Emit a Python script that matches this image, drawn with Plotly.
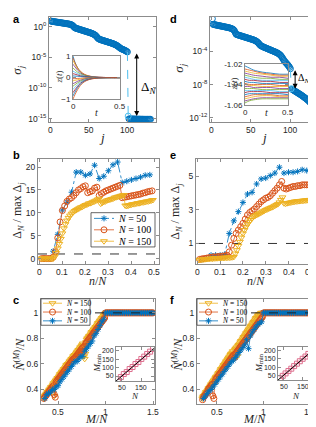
import plotly.graph_objects as go

W, H = 316, 427
def px(x): return x / W
def py(y): return 1 - y / H

BLUE = '#0072BD'; ORANGE = '#D95319'; YELLOW = '#EDB120'; LBLUE = '#4DBEEE'; PINK = '#DE6F8E'
MCOL = ['#0072BD', '#D95319', '#EDB120', '#7E2F8E', '#77AC30', '#4DBEEE', '#A2142F']
AX = '#8c8c8c'
SANS = 'Liberation Sans, Arial, sans-serif'
SERIF = 'Liberation Serif, DejaVu Serif, serif'

# ---------------- data ----------------
N_gap = 100
j_idx = list(range(1, 131))
log10_sigma_a = [
    0.92, 0.88, 0.86, 0.84, 0.82, 0.80, 0.78, 0.76, 0.74, 0.72,
    0.70, 0.68, 0.66, 0.64, 0.62, 0.60, 0.58, 0.56, 0.54, 0.52,
    0.50, 0.48, 0.46, 0.44, 0.41, 0.38, 0.34, 0.28, 0.20, 0.08,
    -0.08, -0.18, -0.24, -0.28, -0.32, -0.36, -0.40, -0.44, -0.48, -0.52,
    -0.56, -0.60, -0.64, -0.68, -0.72, -0.76, -0.80, -0.84, -0.88, -0.92,
    -0.96, -1.00, -1.05, -1.10, -1.15, -1.21, -1.28, -1.36, -1.46, -1.60,
    -1.76, -1.90, -2.00, -2.06, -2.11, -2.15, -2.19, -2.23, -2.27, -2.31,
    -2.35, -2.39, -2.43, -2.47, -2.51, -2.55, -2.59, -2.63, -2.67, -2.71,
    -2.76, -2.81, -2.86, -2.92, -2.98, -3.05, -3.13, -3.22, -3.32, -3.42,
    -3.52, -3.60, -3.66, -3.71, -3.76, -3.82, -3.88, -3.95, -4.03, -4.12,
    -14.60, -15.05, -15.06, -15.06, -15.07, -15.07, -15.08, -15.08, -15.08, -15.09,
    -15.09, -15.09, -15.10, -15.10, -15.10, -15.10, -15.11, -15.11, -15.11, -15.11,
    -15.12, -15.12, -15.12, -15.12, -15.12, -15.12, -15.12, -15.12, -15.12, -15.12]
log10_sigma_d = [
    -0.10, -0.78, -0.80, -0.82, -0.84, -0.86, -0.88, -0.90, -0.92, -0.94,
    -0.96, -0.98, -1.00, -1.02, -1.04, -1.06, -1.08, -1.10, -1.12, -1.14,
    -1.16, -1.18, -1.21, -1.24, -1.27, -1.31, -1.36, -1.43, -1.55, -1.75,
    -1.95, -2.00, -2.03, -2.06, -2.09, -2.12, -2.15, -2.18, -2.21, -2.24,
    -2.27, -2.30, -2.33, -2.36, -2.39, -2.42, -2.45, -2.48, -2.51, -2.54,
    -2.57, -2.60, -2.63, -2.67, -2.71, -2.76, -2.82, -2.89, -2.98, -3.08,
    -3.20, -3.30, -3.36, -3.41, -3.46, -3.50, -3.54, -3.58, -3.62, -3.66,
    -3.70, -3.74, -3.78, -3.82, -3.86, -3.90, -3.94, -3.98, -4.02, -4.06,
    -4.10, -4.14, -4.19, -4.24, -4.30, -4.37, -4.45, -4.55, -4.67, -4.82,
    -4.98, -5.12, -5.24, -5.35, -5.46, -5.57, -5.68, -5.80, -5.94, -6.10,
    -8.50, -8.56, -8.62, -8.68, -8.74, -8.80, -8.86, -8.92, -8.98, -9.04,
    -9.10, -9.16, -9.22, -9.28, -9.35, -9.42, -9.49, -9.56, -9.63, -9.70,
    -9.78, -9.86, -9.95, -10.04, -10.14, -10.25, -10.37, -10.50, -10.64, -10.80]

t_a = [0, 0.02, 0.05, 0.08, 0.12, 0.16, 0.2, 0.25, 0.3, 0.4, 0.5]
z_a = [
    [1.00, 0.72, 0.44, 0.27, 0.14, 0.07, 0.04, 0.02, 0.01, 0.00, 0.00],
    [0.92, 0.70, 0.45, 0.29, 0.16, 0.09, 0.05, 0.02, 0.01, 0.00, 0.00],
    [0.80, 0.62, 0.40, 0.26, 0.14, 0.08, 0.04, 0.02, 0.01, 0.00, 0.00],
    [0.62, 0.50, 0.34, 0.22, 0.12, 0.07, 0.04, 0.02, 0.01, 0.00, 0.00],
    [0.45, 0.36, 0.25, 0.17, 0.10, 0.06, 0.03, 0.01, 0.00, 0.00, 0.00],
    [0.30, 0.25, 0.18, 0.12, 0.07, 0.04, 0.02, 0.01, 0.00, 0.00, 0.00],
    [0.18, 0.16, 0.12, 0.08, 0.05, 0.03, 0.02, 0.01, 0.00, 0.00, 0.00],
    [0.08, 0.07, 0.06, 0.05, 0.03, 0.02, 0.01, 0.00, 0.00, 0.00, 0.00],
    [-0.05, -0.05, -0.04, -0.03, -0.02, -0.01, -0.01, 0.00, 0.00, 0.00, 0.00],
    [-0.15, -0.13, -0.10, -0.07, -0.04, -0.03, -0.02, -0.01, 0.00, 0.00, 0.00],
    [-0.28, -0.24, -0.17, -0.12, -0.07, -0.04, -0.02, -0.01, 0.00, 0.00, 0.00],
    [-0.40, -0.33, -0.24, -0.16, -0.10, -0.06, -0.03, -0.01, -0.01, 0.00, 0.00],
    [-0.55, -0.45, -0.32, -0.21, -0.12, -0.07, -0.04, -0.02, -0.01, 0.00, 0.00],
    [-0.70, -0.57, -0.40, -0.26, -0.15, -0.09, -0.05, -0.02, -0.01, 0.00, 0.00],
    [-0.85, -0.68, -0.46, -0.30, -0.17, -0.10, -0.05, -0.02, -0.01, 0.00, 0.00],
    [-1.00, -0.80, -0.55, -0.36, -0.20, -0.11, -0.06, -0.03, -0.01, 0.00, 0.00]]

t_d = [0, 0.05, 0.1, 0.2, 0.3, 0.4, 0.5]
z_d = [
    [-1.022, -1.024, -1.026, -1.028, -1.029, -1.030, -1.030],
    [-1.025, -1.026, -1.027, -1.029, -1.030, -1.031, -1.031],
    [-1.027, -1.028, -1.029, -1.030, -1.031, -1.032, -1.032],
    [-1.029, -1.030, -1.031, -1.032, -1.033, -1.033, -1.034],
    [-1.031, -1.032, -1.033, -1.034, -1.034, -1.035, -1.035],
    [-1.033, -1.034, -1.035, -1.036, -1.036, -1.036, -1.036],
    [-1.035, -1.036, -1.036, -1.037, -1.037, -1.038, -1.038],
    [-1.037, -1.038, -1.038, -1.039, -1.039, -1.039, -1.039],
    [-1.039, -1.040, -1.040, -1.040, -1.040, -1.041, -1.041],
    [-1.040, -1.041, -1.041, -1.042, -1.042, -1.042, -1.042],
    [-1.042, -1.042, -1.043, -1.043, -1.043, -1.044, -1.044],
    [-1.044, -1.044, -1.044, -1.045, -1.045, -1.045, -1.045],
    [-1.046, -1.046, -1.046, -1.046, -1.046, -1.047, -1.047],
    [-1.048, -1.047, -1.047, -1.047, -1.048, -1.048, -1.048],
    [-1.050, -1.049, -1.049, -1.049, -1.049, -1.049, -1.050],
    [-1.052, -1.051, -1.050, -1.050, -1.050, -1.051, -1.051],
    [-1.054, -1.053, -1.052, -1.051, -1.051, -1.052, -1.052],
    [-1.056, -1.055, -1.054, -1.053, -1.053, -1.053, -1.053],
    [-1.058, -1.056, -1.055, -1.054, -1.054, -1.054, -1.054]]

# panel b / e : ratio Delta_N / max Delta_j vs n/N
n50 = list(range(1, 25)); n100 = list(range(1, 50)); n150 = list(range(1, 75))
ratio_b50 = [0, 0, 1.6, 5.3, 10.6, 12.3, 14.5, 18.9, 18.9, 18.2, 18.5, 20.4, 17.5, 18.0, 19.2,
             20.5, 21.1, 16.6, 16.9, 17.2, 17.5, 17.8, 18.2, 18.3]
ratio_b100 = [0.0, 0.0, 0.0, 0.0, 0.0, 0.3, 1.5, 4.5, 8.0, 10.5,
              11.5, 12.5, 13.0, 13.3, 13.8, 14.4, 15.0, 15.3, 15.7, 15.9,
              14.4, 14.6, 14.8, 15.4, 15.6, 13.8, 14.2, 14.5, 14.8, 15.0,
              15.2, 15.4, 15.6, 15.8, 16.0, 13.3, 13.4, 13.5, 13.6, 13.7,
              13.8, 13.9, 14.0, 14.1, 14.3, 14.4, 14.6, 14.7, 14.8]
ratio_b150 = [0.0, 0.0, 0.0, 0.0, 0.0, 0.0, 0.0, 0.0, 0.0, 0.4,
              1.2, 2.2, 3.2, 4.3, 5.5, 6.6, 7.5, 8.3, 8.9, 9.4,
              9.8, 10.1, 10.4, 10.6, 10.8, 11.0, 11.2, 11.3, 11.5, 11.7,
              11.8, 12.0, 12.1, 12.2, 12.4, 12.5, 12.7, 12.9, 13.1, 12.0,
              12.2, 12.4, 12.5, 12.7, 12.8, 12.9, 13.0, 13.1, 13.3, 13.4,
              13.5, 13.6, 13.7, 13.8, 13.9, 11.6, 11.5, 11.6, 11.7, 11.8,
              11.9, 11.9, 12.0, 12.1, 12.1, 12.2, 12.3, 12.3, 12.4, 12.5,
              12.5, 12.6, 12.7, 12.8]
ratio_e50 = [0.05, 0.12, 0.30, 0.30, 0.30, 0.35, 1.60, 2.35, 2.90, 3.45, 3.95, 4.05, 4.55, 4.85,
             4.90, 5.05, 5.20, 5.55, 5.20, 5.25, 5.25, 5.30, 5.40, 5.35]
ratio_e100 = [0.05, 0.08, 0.10, 0.12, 0.15, 0.17, 0.20, 0.20, 0.22, 0.22,
              0.25, 0.25, 0.30, 0.50, 0.90, 1.30, 1.60, 1.80, 2.00, 2.20,
              2.45, 2.70, 2.85, 2.95, 3.05, 3.20, 3.35, 3.50, 3.60, 3.70,
              3.75, 3.85, 4.00, 4.15, 4.30, 4.50, 4.70, 4.30, 4.25, 4.30,
              4.35, 4.40, 4.40, 4.45, 4.45, 4.50, 4.50, 4.50, 4.50]
ratio_e150 = [0.02, 0.03, 0.04, 0.05, 0.06, 0.07, 0.08, 0.09, 0.10, 0.10,
              0.11, 0.12, 0.12, 0.13, 0.13, 0.14, 0.14, 0.15, 0.15, 0.16,
              0.16, 0.17, 0.18, 0.20, 0.40, 0.60, 0.85, 1.10, 1.35, 1.60,
              1.80, 2.00, 2.15, 2.30, 2.40, 2.50, 2.60, 2.65, 2.70, 2.75,
              2.80, 2.85, 2.90, 2.95, 3.00, 3.04, 3.08, 3.12, 3.16, 3.20,
              3.25, 3.30, 3.35, 3.45, 3.60, 3.75, 3.40, 3.38, 3.40, 3.42,
              3.44, 3.46, 3.48, 3.50, 3.51, 3.52, 3.53, 3.54, 3.55, 3.56,
              3.57, 3.58, 3.59, 3.60]
threshold = 1.0

# panel c / f : Nhat/N vs M/N
M50 = list(range(18, 76)); M100 = list(range(35, 151)); M150 = list(range(52, 226))
nhat_c50 = [0.33, 0.36, 0.37, 0.38, 0.40, 0.40, 0.42, 0.43, 0.46, 0.48, 0.50, 0.52, 0.54, 0.56,
            0.58, 0.60, 0.62, 0.62, 0.64, 0.66, 0.66, 0.70, 0.72, 0.74, 0.76, 0.78, 0.82, 0.84,
            0.87, 0.90, 0.93, 0.95] + [1.0] * 26
nhat_c100 = [0.33, 0.34, 0.35, 0.36, 0.37, 0.38, 0.39, 0.40, 0.41, 0.42,
             0.43, 0.36, 0.34, 0.46, 0.47, 0.48, 0.49, 0.50, 0.51, 0.52,
             0.53, 0.54, 0.55, 0.56, 0.57, 0.58, 0.59, 0.60, 0.61, 0.62,
             0.63, 0.64, 0.64, 0.65, 0.66, 0.67, 0.68, 0.69, 0.70, 0.71,
             0.72, 0.73, 0.70, 0.74, 0.76, 0.77, 0.78, 0.79, 0.80, 0.81,
             0.82, 0.83, 0.84, 0.85, 0.86, 0.87, 0.88, 0.89, 0.90, 0.91,
             0.92, 0.93, 0.94, 0.95, 0.96] + [1.0] * 51
nhat_c150 = [0.34, 0.33, 0.35, 0.36, 0.36, 0.37, 0.38, 0.38, 0.39, 0.40,
             0.40, 0.41, 0.42, 0.42, 0.43, 0.44, 0.45, 0.35, 0.46, 0.47,
             0.47, 0.48, 0.49, 0.49, 0.50, 0.51, 0.52, 0.52, 0.53, 0.54,
             0.54, 0.55, 0.56, 0.56, 0.57, 0.58, 0.59, 0.59, 0.60, 0.60,
             0.61, 0.62, 0.62, 0.63, 0.64, 0.64, 0.65, 0.66, 0.66, 0.67,
             0.67, 0.68, 0.69, 0.69, 0.70, 0.71, 0.71, 0.72, 0.73, 0.73,
             0.74, 0.75, 0.76, 0.70, 0.66, 0.64, 0.68, 0.77, 0.79, 0.80,
             0.80, 0.81, 0.82, 0.82, 0.83, 0.84, 0.85, 0.85, 0.86, 0.87,
             0.87, 0.88, 0.89, 0.89, 0.90, 0.91, 0.92, 0.92, 0.93, 0.94,
             0.94, 0.95, 0.96, 0.96, 0.97, 0.98, 0.98, 0.99] + [1.0] * 76
nhat_f50 = [0.33, 0.35, 0.37, 0.39, 0.40, 0.42, 0.44, 0.46, 0.48, 0.50, 0.52, 0.54, 0.56, 0.58,
            0.60, 0.62, 0.63, 0.65, 0.67, 0.69, 0.71, 0.73, 0.75, 0.79, 0.72, 0.82, 0.85, 0.87,
            0.89, 0.91, 0.92, 0.93] + [1.0] * 26
nhat_f100 = [0.32, 0.34, 0.35, 0.36, 0.37, 0.38, 0.40, 0.41, 0.42, 0.43,
             0.44, 0.35, 0.33, 0.46, 0.48, 0.49, 0.50, 0.51, 0.52, 0.53,
             0.54, 0.55, 0.56, 0.57, 0.58, 0.59, 0.60, 0.61, 0.62, 0.63,
             0.64, 0.65, 0.66, 0.67, 0.65, 0.68, 0.69, 0.70, 0.71, 0.72,
             0.73, 0.74, 0.75, 0.76, 0.77, 0.78, 0.79, 0.80, 0.81, 0.82,
             0.83, 0.84, 0.85, 0.86, 0.87, 0.88, 0.89, 0.90, 0.91, 0.92,
             0.93, 0.94, 0.95, 0.96, 0.97] + [1.0] * 51
nhat_f150 = [0.33, 0.34, 0.35, 0.35, 0.36, 0.37, 0.38, 0.38, 0.39, 0.40,
             0.41, 0.41, 0.42, 0.43, 0.44, 0.44, 0.45, 0.46, 0.47, 0.47,
             0.48, 0.49, 0.50, 0.50, 0.51, 0.52, 0.53, 0.53, 0.54, 0.55,
             0.56, 0.56, 0.57, 0.58, 0.59, 0.59, 0.60, 0.61, 0.62, 0.62,
             0.63, 0.64, 0.65, 0.65, 0.66, 0.67, 0.68, 0.68, 0.69, 0.70,
             0.66, 0.64, 0.71, 0.72, 0.72, 0.73, 0.66, 0.74, 0.75, 0.75,
             0.76, 0.77, 0.78, 0.78, 0.79, 0.80, 0.81, 0.81, 0.82, 0.83,
             0.84, 0.84, 0.85, 0.86, 0.87, 0.87, 0.88, 0.89, 0.90, 0.90,
             0.91, 0.92, 0.93, 0.93, 0.94, 0.95, 0.96, 0.96, 0.97, 0.98,
             0.98, 0.99, 0.99, 0.99, 1.00, 1.00, 1.00, 1.00] + [1.0] * 76

N_inset = [30, 45, 60, 75, 90, 105, 120, 135, 150, 165, 180, 195, 210]
Mmin_c = [32, 44, 62, 74, 92, 104, 122, 134, 152, 166, 182, 196, 212]
Mmin_f = [31, 46, 61, 76, 90, 106, 121, 136, 151, 165, 181, 197, 211]
fit_slope = 1.0

# ---------------- layout helpers ----------------
layout = {}
ann = []
def frame(n, x0, x1, y0, y1, xr, yr, xt=None, xtt=None, yt=None, ytt=None, ylog=False, fs=8.5):
    s = '' if n == 1 else str(n)
    common = dict(showline=True, linecolor=AX, linewidth=1, mirror='ticks', ticks='inside',
                  ticklen=3, tickcolor=AX, showgrid=False, zeroline=False,
                  tickfont=dict(family=SANS, size=fs, color='#262626'))
    layout['xaxis' + s] = dict(domain=[px(x0), px(x1)], range=xr, anchor='y' + s,
                               tickmode='array', tickvals=xt, showticklabels=False, **common)
    layout['yaxis' + s] = dict(domain=[py(y1), py(y0)], range=yr, anchor='x' + s,
                               type='log' if ylog else 'linear',
                               tickmode='array', tickvals=yt, ticktext=ytt, **common)
    # x tick labels placed close under the frame
    labels = xtt if xtt is not None else [str(v) for v in xt]
    for v, lab in zip(xt, labels):
        ann.append(dict(text=lab, x=v, xref='x' + s, y=0, yref='y%s domain' % s, yanchor='top',
                        xanchor='center', yshift=-1, showarrow=False,
                        font=dict(family=SANS, size=fs, color='#262626')))

frame(1, 41, 148, 5, 112, [-1.5, 137], [-15.5, 1.6], xt=[0, 50, 100],
      yt=[1, 1e-5, 1e-10, 1e-15], ytt=['10<sup>0</sup>', '10<sup>-5</sup>', '10<sup>-10</sup>', '10<sup>-15</sup>'], ylog=True)
frame(2, 202, 310, 5, 112, [-2, 135], [-12.45, 0.12], xt=[0, 50, 100],
      yt=[1e-4, 1e-8, 1e-12], ytt=['10<sup>-4</sup>', '10<sup>-8</sup>', '10<sup>-12</sup>'], ylog=True)
frame(3, 30, 151, 150, 257, [-0.006, 0.52], [-1.1, 21.8], xt=[0, 0.1, 0.2, 0.3, 0.4, 0.5],
      xtt=['0', '0.1', '0.2', '0.3', '0.4', '0.5'], yt=[0, 5, 10, 15, 20])
frame(4, 188, 309, 150, 257, [-0.006, 0.525], [-0.2, 6.05], xt=[0, 0.1, 0.2, 0.3, 0.4, 0.5],
      xtt=['0', '0.1', '0.2', '0.3', '0.4', '0.5'], yt=[1, 3, 5])
frame(5, 33, 147, 293, 400, [0.32, 1.52], [0.29, 1.11], xt=[0.5, 1, 1.5], xtt=['0.5', '1', '1.5'],
      yt=[0.4, 0.6, 0.8, 1], ytt=['0.4', '0.6', '0.8', '1'])
frame(6, 189, 307, 293, 400, [0.29, 1.55], [0.29, 1.11], xt=[0.5, 1, 1.5], xtt=['0.5', '1', '1.5'],
      yt=[0.4, 0.6, 0.8, 1], ytt=['0.4', '0.6', '0.8', '1'])
frame(7, 65, 112, 45, 89, [0, 0.5], [-1, 1], xt=[0, 0.5], xtt=['0', '0.5'], yt=[-1, 0, 1], fs=8)
frame(8, 237, 280, 53, 95, [0, 0.5], [-1.06, -1.02], xt=[0, 0.5], xtt=['0', '0.5'],
      yt=[-1.06, -1.04, -1.02], ytt=['-1.06', '-1.04', '-1.02'], fs=8)
frame(9, 108, 146, 342, 377, [20, 215], [20, 225], xt=[50, 150], yt=[50, 100, 150, 200], fs=7)
frame(10, 270, 307, 342, 376, [20, 215], [20, 225], xt=[50, 150], yt=[50, 100, 150, 200], fs=7)
# overlay in pixel units for the legend boxes
layout['xaxis11'] = dict(domain=[0, 1], range=[0, W], anchor='y11', visible=False, fixedrange=True)
layout['yaxis11'] = dict(domain=[0, 1], range=[H, 0], anchor='x11', visible=False, fixedrange=True)

fig = go.Figure()
def tr(n, **kw):
    s = '' if n == 1 else str(n)
    fig.add_trace(go.Scatter(xaxis='x' + s, yaxis='y' + s, hoverinfo='skip', showlegend=False, **kw))

# threshold lines behind data in b, e
for n in (3, 4):
    xr = layout['xaxis' + str(n)]['range']
    tr(n, x=xr, y=[threshold, threshold], mode='lines', line=dict(color='#333333', width=1, dash='dash'))

# panels a, d
for n, logs in ((1, log10_sigma_a), (2, log10_sigma_d)):
    sig = [10 ** v for v in logs]
    tr(n, x=j_idx[:N_gap] + j_idx[N_gap + 1:], y=sig[:N_gap] + sig[N_gap + 1:], mode='markers',
       marker=dict(symbol='circle-open', size=6, color=BLUE, line=dict(width=1)))
    tr(n, x=j_idx[N_gap - 1:N_gap + 1], y=sig[N_gap - 1:N_gap + 1], mode='lines',
       line=dict(color=LBLUE, width=1, dash='dash'))
    tr(n, x=[j_idx[N_gap]], y=[sig[N_gap]], mode='markers',
       marker=dict(symbol='circle-open', size=6, color=LBLUE, line=dict(width=1)))

for i, row in enumerate(z_a):
    tr(7, x=t_a, y=row, mode='lines', line=dict(color=MCOL[i % 7], width=0.8, shape='spline'))
for i, row in enumerate(z_d):
    tr(8, x=t_d, y=row, mode='lines', line=dict(color=MCOL[i % 7], width=0.8, shape='spline'))

# panels b, e
series_be = [
    (50, n50, ratio_b50, ratio_e50, BLUE, 'asterisk-open', 5, 'dashdot'),
    (100, n100, ratio_b100, ratio_e100, ORANGE, 'circle-open', 6, 'solid'),
    (150, n150, ratio_b150, ratio_e150, YELLOW, 'triangle-down-open', 6, 'solid')]
for N, nn, rb, re_, col, sym, sz, dash in series_be:
    x = [k / N for k in nn]
    mk = dict(symbol=sym, size=sz, color=col, line=dict(width=1, color=col))
    tr(3, x=x, y=rb, mode='lines+markers', line=dict(color=col, width=0.8, dash=dash), marker=mk)
    tr(4, x=x, y=re_, mode='lines+markers', line=dict(color=col, width=0.8, dash=dash), marker=mk)

# panels c, f
series_cf = [
    (150, M150, nhat_c150, nhat_f150, YELLOW, 'triangle-down-open', 6),
    (100, M100, nhat_c100, nhat_f100, ORANGE, 'circle-open', 6),
    (50, M50, nhat_c50, nhat_f50, BLUE, 'asterisk-open', 5)]
for N, MM, yc, yf, col, sym, sz in series_cf:
    x = [m / N for m in MM]
    mk = dict(symbol=sym, size=sz, color=col, line=dict(width=1, color=col))
    tr(5, x=x, y=yc, mode='lines+markers', line=dict(color=col, width=0.8), marker=mk)
    tr(6, x=x, y=yf, mode='lines+markers', line=dict(color=col, width=0.8), marker=mk)
# saturation line drawn over the data in c, f
for n in (5, 6):
    xr = layout['xaxis' + str(n)]['range']
    tr(n, x=xr, y=[threshold, threshold], mode='lines', line=dict(color='#222222', width=1, dash='dash'))

for n, mm in ((9, Mmin_c), (10, Mmin_f)):
    tr(n, x=N_inset, y=mm, mode='markers',
       marker=dict(symbol='square-open', size=5, color=PINK, line=dict(width=1, color=PINK)))
    xr = layout['xaxis' + str(n)]['range']
    tr(n, x=xr, y=[fit_slope * v for v in xr], mode='lines', line=dict(color='black', width=1))

# annotations
def A(text, x, y, size=12, angle=0, font=SERIF, xa='center', ya='middle', color='#262626'):
    ann.append(dict(text=text, x=px(x), y=py(y), xref='paper', yref='paper', showarrow=False,
                    textangle=angle, xanchor=xa, yanchor=ya,
                    font=dict(family=font, size=size, color=color)))

# custom legends (drawn in pixel overlay axis so rows are compact)
def legend_box(x0, y0, x1, y1, entries, seg0, seg1, tx, fs):
    tr(11, x=[x0, x1, x1, x0, x0], y=[y0, y0, y1, y1, y0], mode='lines', fill='toself',
       fillcolor='white', line=dict(color='#262626', width=0.7))
    h = (y1 - y0) / len(entries)
    for k, (name, col, sym, sz, dash) in enumerate(entries):
        yc = y0 + (k + 0.5) * h
        tr(11, x=[x0 + seg0, x0 + seg1], y=[yc, yc], mode='lines', line=dict(color=col, width=0.8, dash=dash))
        tr(11, x=[x0 + (seg0 + seg1) / 2], y=[yc], mode='markers',
           marker=dict(symbol=sym, size=sz, color=col, line=dict(width=1, color=col)))
        A(name, x0 + tx, yc, size=fs, xa='left', color='black')

ent_b = [('<i>N</i> = %d' % N, col, sym, sz, dash) for N, _, _, _, col, sym, sz, dash in series_be]
ent_cf = [('<i>N</i> = %d' % N, col, sym, sz, 'solid') for N, _, _, _, col, sym, sz in series_cf]
legend_box(83, 205, 147, 240, ent_b, 3, 23, 25, 10)
legend_box(33, 293, 82, 320, ent_cf, 2, 21, 23, 7.5)
legend_box(189, 293, 238, 320, ent_cf, 2, 21, 23, 7.5)

for lt, x, y in (('a', 3, 7), ('d', 160, 7), ('b', 3, 146), ('e', 160, 146), ('c', 3, 294), ('f', 160, 294)):
    A('<b>%s</b>' % lt, x, y, size=11, font=SANS, xa='left', color='black')

A('<i>σ</i><sub><i>j</i></sub>', 10, 60, size=13, angle=-90)
A('<i>σ</i><sub><i>j</i></sub>', 172, 58, size=13, angle=-90)
A('<i>j</i>', 94, 128, size=13)
A('<i>j</i>', 256, 128, size=13)
A('Δ<sub><i>N</i></sub> / max Δ<sub><i>j</i></sub>', 10, 203, size=12, angle=-90)
A('Δ<sub><i>N</i></sub> / max Δ<sub><i>j</i></sub>', 168, 203, size=12, angle=-90)
A('<i>n</i>/<i>N</i>', 90, 275, size=12)
A('<i>n</i>/<i>N</i>', 248, 275, size=12)
A('<i>N̂</i><sup>(<i>M</i>)</sup>/<i>N</i>', 12, 350, size=12, angle=-90)
A('<i>N̂</i><sup>(<i>M</i>)</sup>/<i>N</i>', 170, 350, size=12, angle=-90)
A('<i>M</i>/<i>N</i>', 88, 416, size=12)
A('<i>M</i>/<i>N</i>', 246, 416, size=12)
A('<i>z</i>(<i>t</i>)', 51, 67, size=9, angle=-90)
A('<i>t</i>', 88, 103, size=10)
A('<i>z</i>(<i>t</i>)', 226, 74, size=9, angle=-90)
A('<i>t</i>', 258, 103, size=10)
A('<i>M</i><sub>min</sub>', 89, 359, size=9, angle=-90)
A('<i>N</i>', 127, 392, size=9)
A('<i>M</i><sub>min</sub>', 251, 359, size=9, angle=-90)
A('<i>N</i>', 288, 392, size=9)

# gap arrows
for n, logs, jx, tx, ty, lab, fs, xa in ((1, log10_sigma_a, 112, 127, -9.9, 'Δ<sub><i>N</i></sub>', 13, 'center'),
                                         (2, log10_sigma_d, 106, 108, -7.3, 'Δ<sub><i>N\'</i></sub>', 10, 'left')):
    s = '' if n == 1 else str(n)
    ann.append(dict(x=jx, y=logs[N_gap], ax=jx, ay=logs[N_gap - 1], xref='x' + s, yref='y' + s,
                    axref='x' + s, ayref='y' + s, text='', showarrow=True, arrowside='end+start',
                    arrowhead=2, arrowsize=1, arrowwidth=1, arrowcolor='black'))
    ann.append(dict(x=tx, y=ty, xref='x' + s, yref='y' + s, text=lab, showarrow=False, xanchor=xa,
                    borderpad=0, font=dict(family=SERIF, size=fs, color='black')))

fig.update_layout(width=W, height=H, margin=dict(l=0, r=0, t=0, b=0, pad=0), showlegend=False,
                  paper_bgcolor='white', plot_bgcolor='rgba(0,0,0,0)', annotations=ann, **layout)
fig.write_html('out.html')
